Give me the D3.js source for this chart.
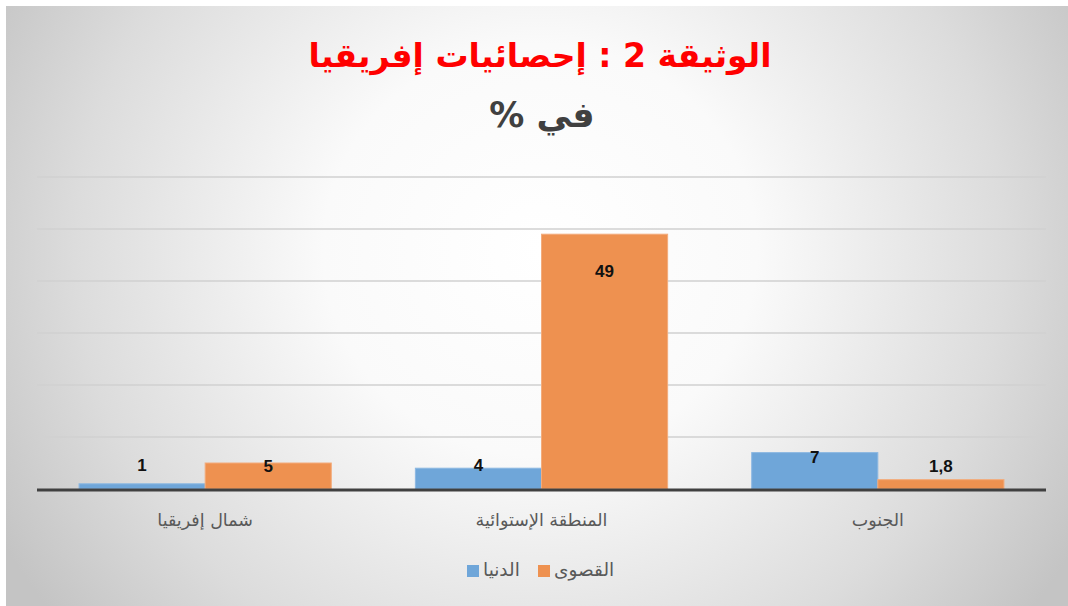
<!DOCTYPE html>
<html><head><meta charset="utf-8">
<script src="https://cdn.jsdelivr.net/npm/d3@7"></script>
<style>html,body{margin:0;padding:0;background:#fff;overflow:hidden}</style>
</head><body>
<script>
const categories = ["شمال إفريقيا", "المنطقة الإستوائية", "الجنوب"];
const minValues = [1, 4, 7];
const maxValues = [5, 49, 1.8];
const minLabels = ["1", "4", "7"];
const maxLabels = ["5", "49", "1,8"];
const minLabelAt = [4.6, 4.6, 6.2];
const maxLabelAt = [4.5, 42, 4.5];
const yTicks = [0, 10, 20, 30, 40, 50, 60];
const seriesNames = ["الدنيا", "القصوى"];
const titleText = "الوثيقة 2 : إحصائيات إفريقيا";
const subtitleText = "في %";

const W = 1068, H = 606;
const colors = ["#6fa6d9", "#ee9150"];
const svg = d3.select("body").append("svg").attr("width", W).attr("height", H);

const defs = svg.append("defs");
const grad = defs.append("radialGradient").attr("id","bg")
  .attr("gradientUnits","userSpaceOnUse").attr("cx",540).attr("cy",250).attr("r",620)
  .attr("gradientTransform","translate(540,250) scale(1,0.95) translate(-540,-250)");
grad.append("stop").attr("offset","0").attr("stop-color","#ffffff");
grad.append("stop").attr("offset","0.35").attr("stop-color","#fafafa");
grad.append("stop").attr("offset","0.75").attr("stop-color","#dcdcdc");
grad.append("stop").attr("offset","1").attr("stop-color","#c4c4c4");
svg.append("rect").attr("x",6).attr("y",6).attr("width",W-6).attr("height",H-6).attr("fill","url(#bg)");

const plotL = 37, plotR = 1046, plotT = 177, plotB = 489;
const x = d3.scaleBand().domain(categories).range([plotL, plotR]).paddingInner(0.25).paddingOuter(0.125);
const xs = d3.scaleBand().domain([0,1]).range([0, x.bandwidth()]);
const y = d3.scaleLinear().domain([0, 60]).range([plotB, plotT]);

svg.append("g").selectAll("line").data(yTicks.filter(t => t > 0)).join("line")
  .attr("x1", plotL).attr("x2", plotR).attr("y1", d => y(d)).attr("y2", d => y(d))
  .attr("stroke", "#d0d0d0").attr("stroke-width", 1.3);

const series = [minValues, maxValues];
series.forEach((vals, si) => {
  svg.append("g").selectAll("rect").data(vals).join("rect")
    .attr("x", (d,i) => x(categories[i]) + xs(si))
    .attr("width", xs.bandwidth())
    .attr("y", d => y(d))
    .attr("height", d => y(0) - y(d))
    .attr("fill", colors[si])
    .attr("stroke", si === 0 ? "#8cb8e2" : "#f3ac7c").attr("stroke-width", 1);
});

svg.append("line").attr("x1", plotL).attr("x2", plotR).attr("y1", y(0)+1).attr("y2", y(0)+1)
  .attr("stroke", "#404040").attr("stroke-width", 3);

const labelSets = [[minLabels, minLabelAt], [maxLabels, maxLabelAt]];
labelSets.forEach(([labs, at], si) => {
  svg.append("g").selectAll("text").data(labs).join("text")
    .attr("x", (d,i) => x(categories[i]) + xs(si) + xs.bandwidth()/2)
    .attr("y", (d,i) => y(at[i]))
    .attr("dy", "0.35em")
    .attr("text-anchor", "middle")
    .attr("font-family", "Liberation Sans, Arial, sans-serif")
    .attr("font-weight", "bold").attr("font-size", 17).attr("fill", "#111")
    .text(d => d);
});

svg.append("g").selectAll("text").data(categories).join("text")
  .attr("x", d => x(d) + x.bandwidth()/2).attr("y", 520).attr("dy","0.35em")
  .attr("text-anchor","middle").attr("direction","rtl")
  .attr("font-family","DejaVu Sans, sans-serif").attr("font-size",17.5).attr("fill","#595959")
  .text(d => d);

svg.append("text").attr("x", 540).attr("y", 55).attr("dy","0.35em").attr("text-anchor","middle")
  .attr("direction","rtl")
  .attr("font-family","DejaVu Sans, sans-serif").attr("font-weight","bold").attr("font-size",33)
  .attr("fill","#ff0000").text(titleText);
svg.append("text").attr("x", 542).attr("y", 115).attr("dy","0.35em").attr("text-anchor","middle")
  .attr("direction","rtl")
  .attr("font-family","DejaVu Sans, sans-serif").attr("font-weight","bold").attr("font-size",35)
  .attr("fill","#404040").text(subtitleText);

const lg = svg.append("g");
const legendItems = [{name: seriesNames[0], c: colors[0], sx: 467}, {name: seriesNames[1], c: colors[1], sx: 538}];
legendItems.forEach(it => {
  lg.append("rect").attr("x", it.sx).attr("y", 565).attr("width", 12).attr("height", 12).attr("fill", it.c);
  lg.append("text").attr("x", it.sx + 16).attr("y", 570).attr("dy","0.35em").attr("text-anchor","start")
    .attr("font-family","DejaVu Sans, sans-serif").attr("font-size",18.5).attr("fill","#595959").text(it.name);
});
</script>
</body></html>
